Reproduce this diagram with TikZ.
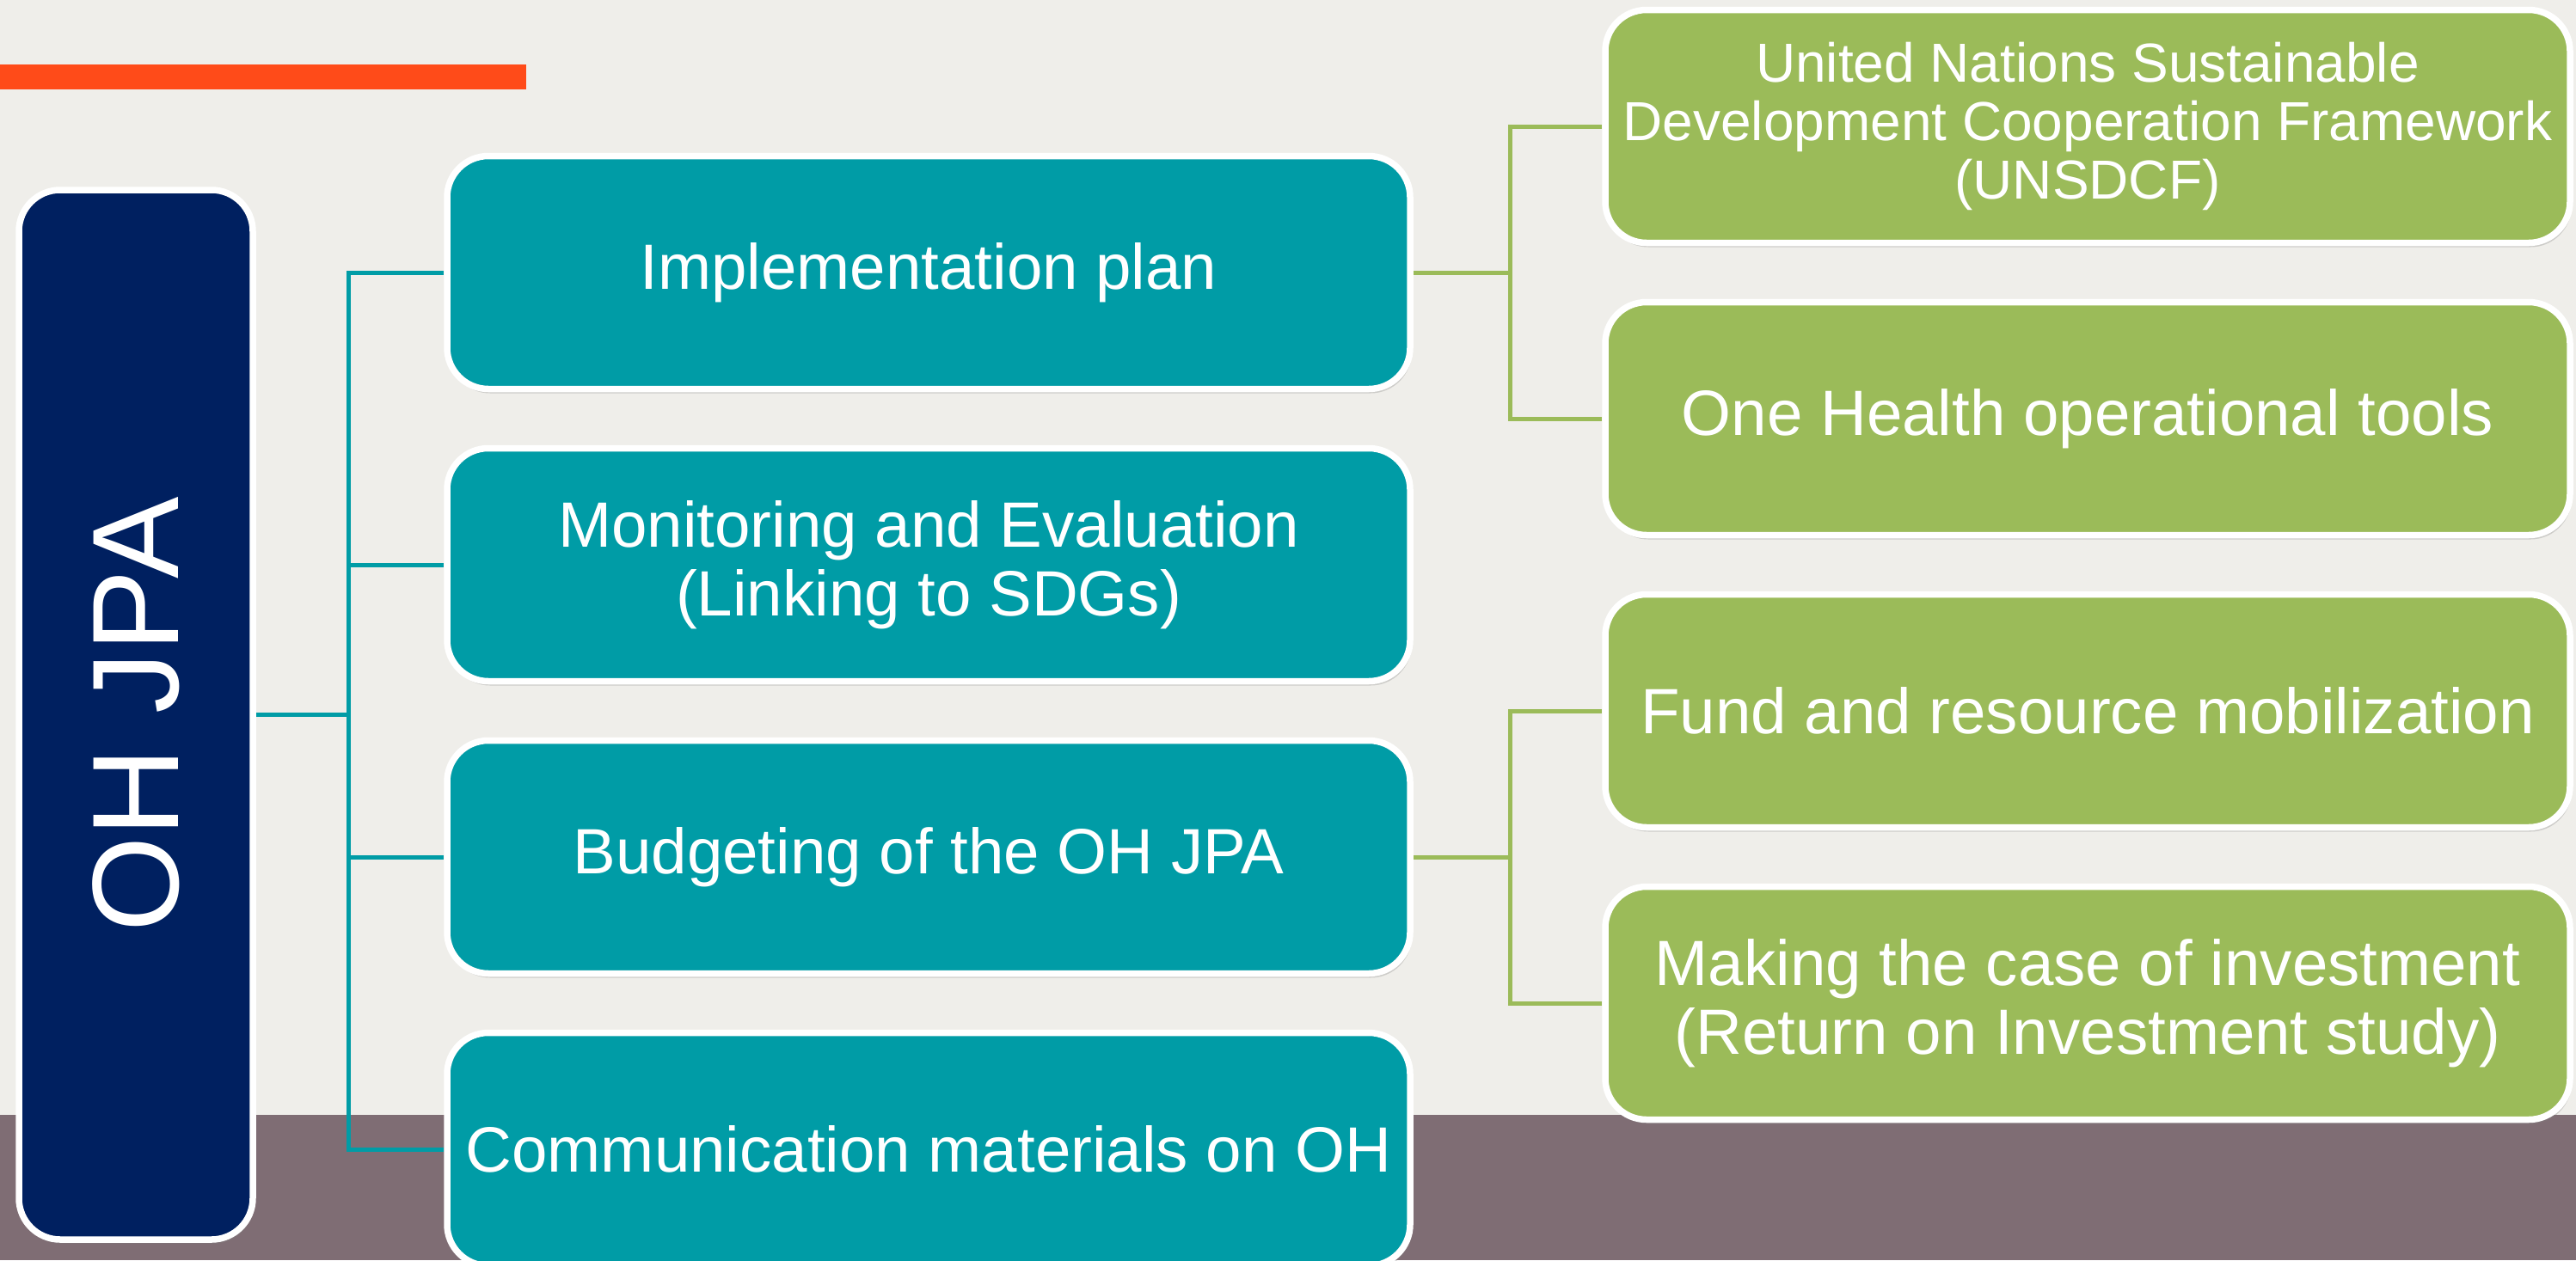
\documentclass[tikz,border=0pt]{standalone}
\usepackage{fontspec}
\setmainfont{Liberation Sans}
\usetikzlibrary{positioning,shadows,backgrounds}
\newdimen\rowDist
\rowDist=3.4cm
\definecolor{slidebg}{RGB}{239,238,234}
\definecolor{slideband}{RGB}{127,109,116}
\definecolor{slidebar}{RGB}{255,75,25}
\definecolor{ohnavy}{RGB}{0,32,96}
\definecolor{ohteal}{RGB}{0,156,166}
\definecolor{ohgreen}{RGB}{155,187,89}
\newcommand{\rootfont}{\fontsize{40.7pt}{44pt}\selectfont}
\newcommand{\planfont}{\fontsize{21.2pt}{22.8pt}\selectfont}
\newcommand{\unfont}{\fontsize{18.2pt}{19.4pt}\selectfont}

\begin{document}
\begin{tikzpicture}[
    rootbox/.style={%
      draw=white,
      line width=0.075cm,
      rounded corners=0.48cm,
      fill=ohnavy,
      text=white,
      minimum width=2.72cm,
      minimum height=12.21cm,
      drop shadow={shadow xshift=0.02cm, shadow yshift=-0.05cm, opacity=0.3},
    },
    planbox/.style={%
      rootbox,
      fill=ohteal,
      minimum width=11.2cm,
      minimum height=2.71cm,
      inner sep=0.1cm,
      align=center,
      font=\planfont,
    },
    toolbox/.style={%
      planbox,
      fill=ohgreen,
      minimum width=11.22cm,
    },
    tealline/.style={draw=ohteal, line width=0.05cm},
    greenline/.style={draw=ohgreen, line width=0.05cm},
  ]

    \useasboundingbox (0,0) rectangle (29.96,-14.66);
    \clip (0,0) rectangle (29.96,-14.66);

    \node [rootbox] (ohjpa) at (1.58,-8.315) {\rotatebox{90}{\rootfont OH JPA}};
    \node [planbox] (impl) at (10.80,-3.17) {Implementation plan};
    \path (impl) ++(0,-\rowDist) node [planbox] (monit) {Monitoring and Evaluation\\(Linking to SDGs)};
    \path (monit) ++(0,-\rowDist) node [planbox] (budget) {Budgeting of the OH JPA};
    \path (budget) ++(0,-\rowDist) node [planbox] (comm) {Communication materials on OH};
    \path (impl) ++(13.48,1.70) node [toolbox, font=\unfont] (unsdcf) {United Nations Sustainable\\Development Cooperation Framework\\(UNSDCF)};
    \path (unsdcf) ++(0,-\rowDist) node [toolbox] (tools) {One Health operational tools};
    \path (budget) ++(13.48,1.70) node [toolbox] (fund) {Fund and resource mobilization};
    \path (fund) ++(0,-\rowDist) node [toolbox] (invest) {Making the case of investment\\(Return on Investment study)};

    \coordinate (tbus) at (4.05,-8.315);
    \path (impl.east) ++(1.13,0) coordinate (gbusA);
    \path (budget.east) ++(1.13,0) coordinate (gbusB);

    \begin{pgfonlayer}{background}
      \fill [slidebg] (0,0) rectangle (29.96,-14.66);
      \fill [slideband] (0,-12.97) rectangle (29.96,-14.66);
      \fill [slidebar] (0,-0.75) rectangle (6.12,-1.04);

      \draw [tealline] (ohjpa.east) -- (tbus);
      \foreach \n in {impl,monit,budget,comm}
        \draw [tealline] (tbus) |- (\n.west);
      \draw [greenline] (impl.east) -- (gbusA);
      \draw [greenline] (gbusA) |- (unsdcf.west);
      \draw [greenline] (gbusA) |- (tools.west);
      \draw [greenline] (budget.east) -- (gbusB);
      \draw [greenline] (gbusB) |- (fund.west);
      \draw [greenline] (gbusB) |- (invest.west);
    \end{pgfonlayer}
    \end{tikzpicture}
\end{document}
